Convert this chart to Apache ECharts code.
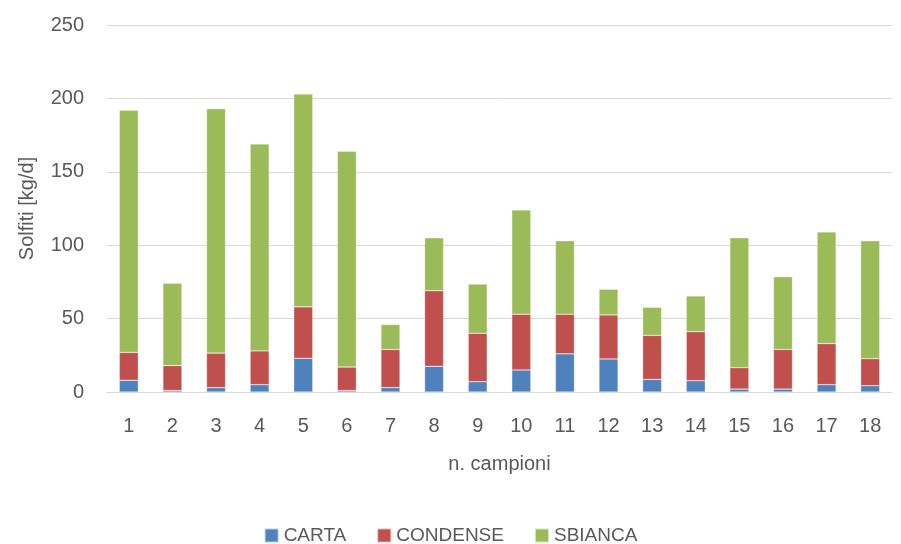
<!DOCTYPE html>
<html><head><meta charset="utf-8">
<script src="https://cdn.jsdelivr.net/npm/echarts@6/dist/echarts.min.js"></script>
<style>html,body{margin:0;padding:0;background:#fff}#c{width:901px;height:544px}</style>
</head><body><div id="c"></div>
<script>
const categories = ['1','2','3','4','5','6','7','8','9','10','11','12','13','14','15','16','17','18'];
const carta    = [8, 1, 3, 5, 23, 1, 3, 17.5, 7, 15, 26, 22.5, 8.6, 7.7, 2, 2, 5, 4.3];
const condense = [19, 17, 23.5, 23, 35, 16, 26, 51.5, 33, 38, 27, 30, 30, 33.4, 14.6, 27, 28, 18.4];
const sbianca  = [165, 56, 166.5, 141, 145, 147, 17, 36, 33.5, 71, 50, 17.5, 19.1, 24.3, 88.4, 49.5, 76, 80.3];
const yTicks = [0, 50, 100, 150, 200, 250];

const font = 'Liberation Sans';
const chart = echarts.init(document.getElementById('c'));
const mk = (name, data, color) => ({
  name, type: 'bar', stack: 'tot', data, barWidth: 19,
  itemStyle: { color, borderColor: 'rgba(255,255,255,0.6)', borderWidth: 0.5 }
});
chart.setOption({
  animation: false,
  textStyle: { fontFamily: font },
  grid: { left: 107, right: 9, top: 25, bottom: 152 },
  legend: {
    top: 521, left: 'center', itemWidth: 14, itemHeight: 14, itemGap: 30,
    icon: 'rect',
    textStyle: { fontFamily: font, fontSize: 19, color: '#595959' },
    data: ['CARTA', 'CONDENSE', 'SBIANCA']
  },
  xAxis: {
    type: 'category', data: categories,
    name: 'n. campioni', nameLocation: 'middle', nameGap: 62,
    nameTextStyle: { fontFamily: font, fontSize: 20, color: '#595959' },
    axisLine: { lineStyle: { color: '#D9D9D9', width: 1 } },
    axisTick: { show: false },
    axisLabel: { fontFamily: font, fontSize: 20, color: '#595959', margin: 24 }
  },
  yAxis: {
    type: 'value', min: yTicks[0], max: yTicks[yTicks.length - 1], interval: 50,
    name: 'Solfiti [kg/d]', nameLocation: 'middle', nameGap: 70,
    nameTextStyle: { fontFamily: font, fontSize: 20, color: '#595959' },
    axisLine: { show: false }, axisTick: { show: false },
    axisLabel: { fontFamily: font, fontSize: 20, color: '#595959', margin: 23 },
    splitLine: { lineStyle: { color: '#D9D9D9', width: 1 } }
  },
  series: [
    mk('CARTA', carta, '#4F81BD'),
    mk('CONDENSE', condense, '#C0504D'),
    mk('SBIANCA', sbianca, '#9BBB59')
  ]
});
</script></body></html>
